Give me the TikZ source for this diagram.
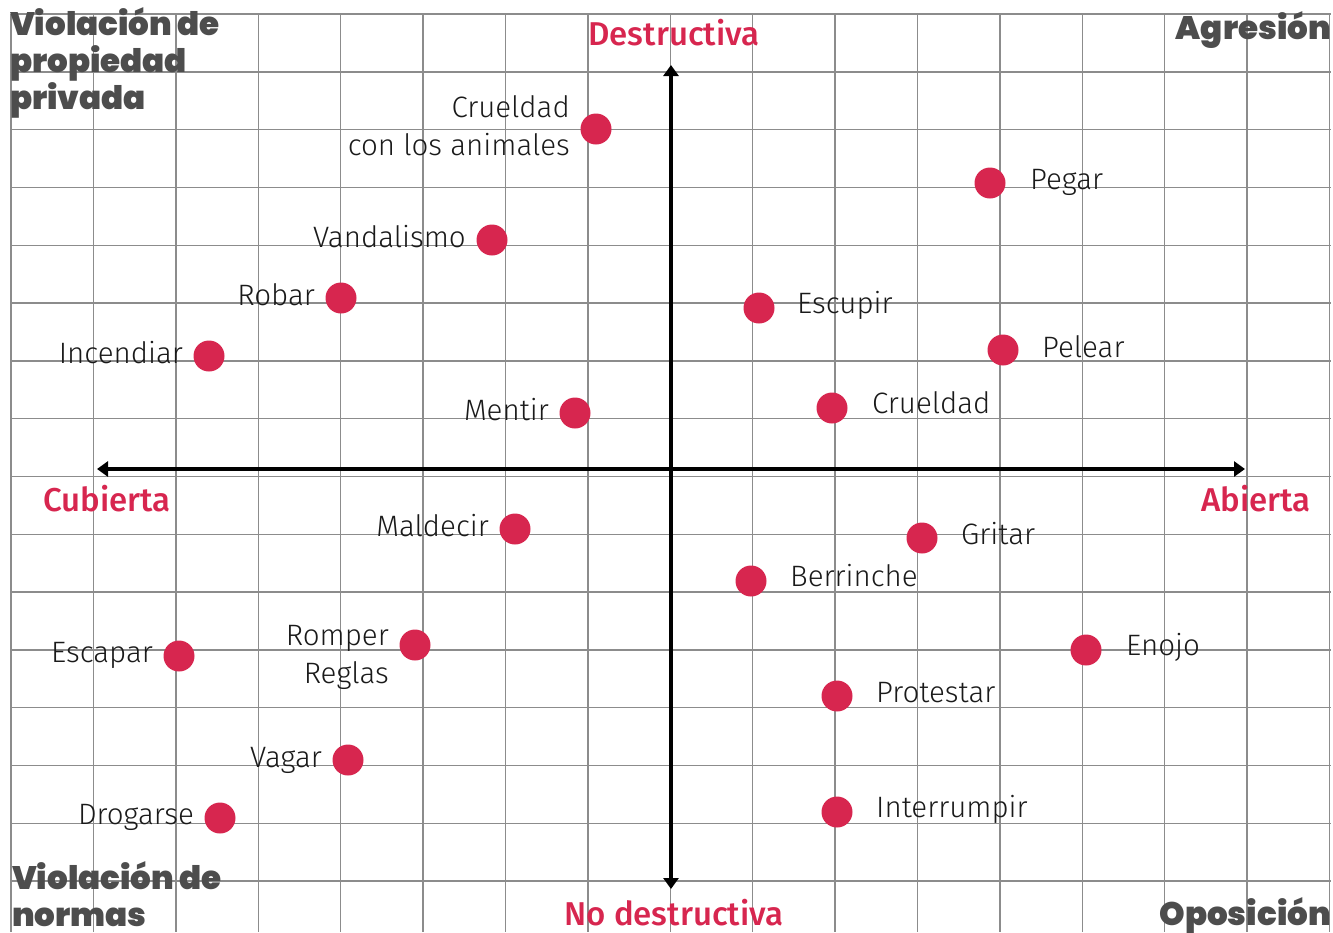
\documentclass[tikz,border=0pt]{standalone}
\usepackage{fontspec}
\usetikzlibrary{arrows.meta}
\newfontfamily\lightf{Fira Sans Light}
\newfontfamily\blackf{Poppins Black}
\newfontfamily\medf{Fira Sans Medium}
\definecolor{crim}{HTML}{D7264F}
\definecolor{gridc}{HTML}{8C8C8C}
\definecolor{cornc}{HTML}{4D4D4D}
\definecolor{txtc}{HTML}{1A1A1A}
\begin{document}
\begin{tikzpicture}[x=1pt,y=-1pt,
  gridline/.style={draw=gridc,line width=1.4pt},
  axis/.style={draw=black,line width=4pt,-{Triangle[length=11pt,width=15pt]}},
  dot/.style={circle,fill=crim,minimum size=31pt,inner sep=0pt},
  lbl/.style={inner sep=0pt,text=txtc,font=\lightf\fontsize{29.5}{37.5}\selectfont},
  axlbl/.style={inner sep=0pt,text=crim,font=\medf\fontsize{33}{38}\selectfont},
  corner/.style={inner sep=0pt,text=cornc,font=\blackf\fontsize{32.5}{37}\selectfont,align=left}]
\useasboundingbox (0,0) rectangle (1333,932);
% grid
\foreach \k in {0,...,16} {\draw[gridline] ({11+82.4*\k},14) -- ({11+82.4*\k},932);}
\foreach \k in {0,...,15} {\draw[gridline] (11,{14+57.8*\k}) -- (1331,{14+57.8*\k});}
% axes
\coordinate (c) at (671,469);
\coordinate (xl) at (97,469);
\coordinate (xr) at (1245,469);
\coordinate (yt) at (671,65);
\coordinate (yb) at (671,889);
\draw[axis] (c) -- (xl);
\draw[axis] (c) -- (xr);
\draw[axis] (c) -- (yt);
\draw[axis] (c) -- (yb);
% axis labels
\node[axlbl,anchor=base] (des) at (674,45) {Destructiva};
\node[axlbl,anchor=base] (nodes) at (674,925) {No destructiva};
\node[axlbl,anchor=base] (cub) at (107,511) {Cubierta};
\node[axlbl,anchor=base] (abi) at (1256,511) {Abierta};
% corner labels
\node[corner,anchor=base west] (vpp) at (10,109) {Violación de\\propiedad\\privada};
\node[corner,anchor=base east] (agr) at (1331,39) {Agresión};
\node[corner,anchor=base west] (vn) at (12,926) {Violación de\\normas};
\node[corner,anchor=base east] (opo) at (1331,925) {Oposición};
% points
\node[dot] (p1) at (596,129) {};
\node[lbl,anchor=base east,align=right] at (570,155) {Crueldad\\con los animales};
\node[dot] (p2) at (990,183) {};
\node[lbl,anchor=base west] at (1030,189) {Pegar};
\node[dot] (p3) at (492,240) {};
\node[lbl,anchor=base east] at (466,247) {Vandalismo};
\node[dot] (p4) at (341,298) {};
\node[lbl,anchor=base east] at (315,305) {Robar};
\node[dot] (p5) at (209,356) {};
\node[lbl,anchor=base east] at (183,363) {Incendiar};
\node[dot] (p6) at (759,308) {};
\node[lbl,anchor=base west] at (797,313) {Escupir};
\node[dot] (p7) at (1003,350) {};
\node[lbl,anchor=base west] at (1042,357) {Pelear};
\node[dot] (p8) at (575,413) {};
\node[lbl,anchor=base east] at (549,420) {Mentir};
\node[dot] (p9) at (832,408) {};
\node[lbl,anchor=base west] at (872,413) {Crueldad};
\node[dot] (p10) at (515,529) {};
\node[lbl,anchor=base east] at (489,536) {Maldecir};
\node[dot] (p11) at (922,538) {};
\node[lbl,anchor=base west] at (961,544) {Gritar};
\node[dot] (p12) at (751,581) {};
\node[lbl,anchor=base west] at (790,586) {Berrinche};
\node[dot] (p13) at (179,656) {};
\node[lbl,anchor=base east] at (153,662) {Escapar};
\node[dot] (p14) at (415,645) {};
\node[lbl,anchor=base east,align=right] at (389,683) {Romper\\Reglas};
\node[dot] (p15) at (1086,650) {};
\node[lbl,anchor=base west] at (1126,655) {Enojo};
\node[dot] (p16) at (837,696) {};
\node[lbl,anchor=base west] at (876,702) {Protestar};
\node[dot] (p17) at (348,760) {};
\node[lbl,anchor=base east] at (322,767) {Vagar};
\node[dot] (p18) at (220,818) {};
\node[lbl,anchor=base east] at (194,824) {Drogarse};
\node[dot] (p19) at (837,812) {};
\node[lbl,anchor=base west] at (876,817) {Interrumpir};
\end{tikzpicture}
\end{document}
